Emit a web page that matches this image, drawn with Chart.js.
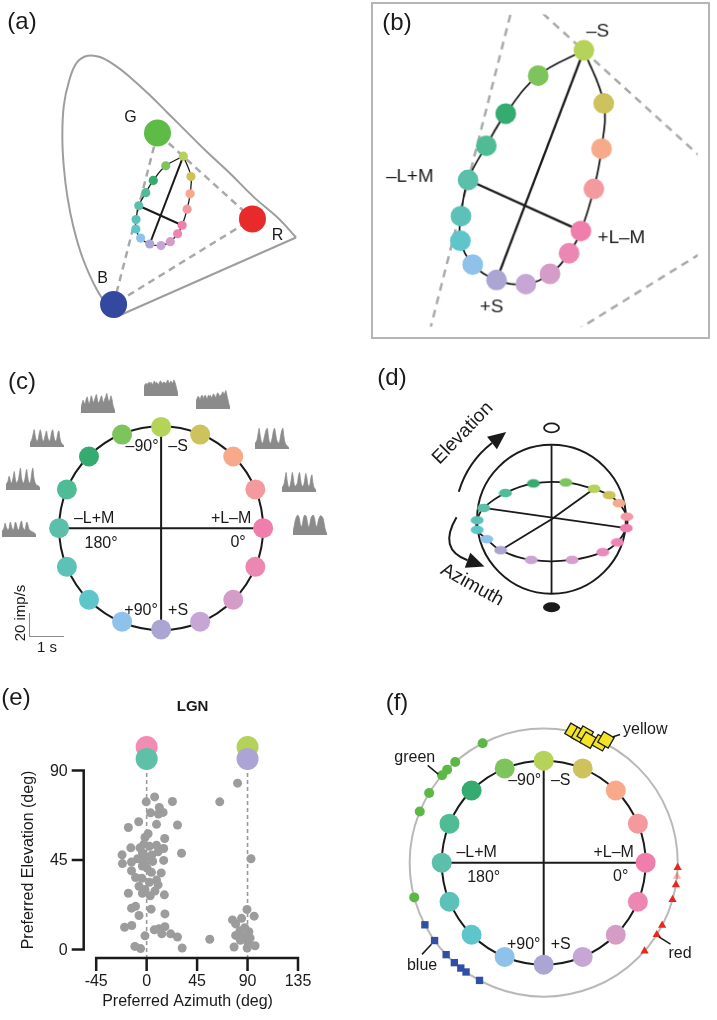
<!DOCTYPE html>
<html>
<head>
<meta charset="utf-8">
<title>Colour tuning in LGN</title>
<script src="https://cdn.jsdelivr.net/npm/chart.js@4.4.1/dist/chart.umd.min.js"></script>
<style>
  body { margin: 0; background: #fff; }
  #page { position: relative; width: 717px; height: 1020px; overflow: hidden;
          font-family: "Liberation Sans", Arial, sans-serif; color: #1a1a1a; }
  #page canvas { position: absolute; }
  .tag { position: absolute; font-size: 24px; line-height: 1; transform: translate(-50%, -50%); white-space: nowrap; }
  .small { font-size: 15px; }
</style>
</head>
<body>
<div id="page">
  <canvas id="chartA" width="368" height="340" style="left:0;top:0"></canvas>
  <canvas id="chartB" width="339" height="337" style="left:371px;top:2px;border:2px solid #b5b5b5"></canvas>
  <canvas id="chartC" width="360" height="320" style="left:0;top:340px"></canvas>
  <canvas id="chartD" width="357" height="310" style="left:360px;top:345px"></canvas>
  <canvas id="chartE" width="360" height="360" style="left:0;top:660px"></canvas>
  <canvas id="chartF" width="357" height="360" style="left:360px;top:660px"></canvas>

  <div class="tag" style="left:22px;top:21px">(a)</div>
  <div class="tag" style="left:397px;top:22px">(b)</div>
  <div class="tag" style="left:22px;top:381px">(c)</div>
  <div class="tag" style="left:392px;top:377px">(d)</div>
  <div class="tag" style="left:16px;top:697px">(e)</div>
  <div class="tag" style="left:397px;top:702px">(f)</div>

  <!-- PSTH scale bar -->
  <div style="position:absolute;left:29px;top:613px;width:34px;height:23px;border-left:1.5px solid #8a8a8a;border-bottom:1.5px solid #8a8a8a"></div>
  <div class="tag small" style="left:19px;top:613px;transform:translate(-50%,-50%) rotate(-90deg)">20 imp/s</div>
  <div class="tag small" style="left:47px;top:646px">1 s</div>
</div>
<script>
// ---- data ----
// the 16 stimulus hues: screen angle (0 = +L-M, -90 = -S, +90 = +S, 180 = -L+M)
const hueAngles = [0, 22.5, 45, 67.5, 90, 112.5, 135, 157.5, 180, -157.5, -135, -112.5, -90, -67.5, -45, -22.5];
const hueColors = ['#f07eac', '#ec87b4', '#d69cc8', '#c7a6d6', '#aba5d3', '#8ec2ea', '#5ec5cb', '#5cc1b7',
                   '#5cbfaa', '#4fbc96', '#35ab6f', '#7ec45c', '#b5d259', '#cdc25c', '#f7a98a', '#f49a9f'];

// chromaticity of the 16 stimuli (same order as hueAngles)
const ellipseX = [0.3920, 0.3760, 0.3501, 0.3174, 0.2776, 0.2453, 0.2286, 0.2294,
                  0.2390, 0.2637, 0.2901, 0.3341, 0.3961, 0.4230, 0.4200, 0.4096];
const ellipseY = [0.3100, 0.2831, 0.2582, 0.2459, 0.2507, 0.2694, 0.2981, 0.3279,
                  0.3715, 0.4128, 0.4516, 0.4975, 0.5280, 0.4639, 0.4092, 0.3607];

// monitor primaries B, G, R
const primaryNames = ['B', 'G', 'R'];
const primaryX = [0.150, 0.305, 0.640];
const primaryY = [0.060, 0.601, 0.330];
const primaryColors = ['#33489f', '#5dbb46', '#e92a2a'];

// spectrum locus outline
const locusX = [0.1565, 0.0912, 0.0422, 0.0095, -0.0124, -0.0255, -0.0307, -0.0255, -0.0069, 0.0203, 0.0585,
                0.1020, 0.1565, 0.2111, 0.2765, 0.3418, 0.4072, 0.4725, 0.5595, 0.6467, 0.7340, 0.7938];
const locusY = [0.0193, 0.1065, 0.2033, 0.3004, 0.3972, 0.4940, 0.5911, 0.6879, 0.7655, 0.8237, 0.8449,
                0.8411, 0.8138, 0.7751, 0.7219, 0.6638, 0.6056, 0.5475, 0.4748, 0.3972, 0.3295, 0.2713];

// PSTHs (imp/s, 34 bins over ~1 s) for the upper half of the hue circle
const psthAngles = [0, -22.5, -45, -67.5, -90, -112.5, -135, -157.5, 180];
const psthRates = [
  [3,7,12,15,17,17,15,10,7,9,14,17,17,16,11,7,8,13,16,17,17,14,9,7,10,14,16,17,16,15,11,6,3,1],
  [4,5,7,12,17,10,5,4,6,11,17,12,6,5,6,8,14,17,11,6,5,6,10,16,13,7,5,6,12,15,8,4,3,2],
  [5,6,8,13,18,12,7,5,6,10,14,17,18,11,6,5,7,11,16,18,13,8,6,5,7,12,16,18,11,6,4,3,2,1],
  [7,9,11,10,8,11,12,9,11,12,10,9,12,11,12,10,11,13,12,10,12,14,13,11,12,13,15,13,14,16,12,8,4,2],
  [8,10,11,10,11,12,11,12,10,11,13,11,12,11,10,12,13,12,11,12,12,11,12,14,12,11,13,12,11,14,12,9,5,2],
  [5,8,11,9,8,12,14,10,8,11,15,12,9,11,14,16,11,9,10,13,15,11,9,12,14,17,13,10,11,15,12,7,4,2],
  [4,5,7,11,15,10,6,5,7,12,15,11,6,5,7,11,14,9,6,5,8,13,15,10,6,5,7,12,14,8,4,3,2,1],
  [5,6,8,12,9,6,7,11,16,10,6,7,9,14,19,11,7,6,8,13,18,12,7,6,8,15,19,11,7,5,4,4,3,2],
  [5,6,8,12,9,7,6,8,13,10,7,6,9,13,11,7,6,8,12,14,9,7,6,9,13,11,7,6,5,5,4,4,3,2]
];
const psthBoxes = [[293,512],[282,469],[255,426],[196,386],[144,373],[81,390],[30,424],[6,467],[2,514]];

// sphere sketch: projected equator dots (unit sphere), starting at -S going clockwise
const sphereDotX = [0.571, 0.775, 0.905, 1.013, 1.004, 0.883, 0.688, 0.277, -0.273, -0.684, -0.870, -1.0, -1.0, -0.913, -0.619, -0.243, 0.191];
const sphereDotY = [0.412, 0.325, 0.217, 0.035, -0.121, -0.312, -0.445, -0.549, -0.549, -0.419, -0.269, -0.143, -0.013, 0.152, 0.355, 0.484, 0.497];
const sphereDotColors = ['#b5d259', '#cdc25c', '#f6ab8b', '#f39aa4', '#f07eac', '#ee86b5', '#e98bb9', '#d6a0cd', '#c9a5d3',
                         '#aba5d3', '#8ec2ea', '#5ec5cb', '#5cc1b7', '#5cbfaa', '#4fbc96', '#35ab6f', '#7ec45c'];

// LGN cells: preferred azimuth / elevation (deg)
const lgnAzimuth = [7.1,-0.4,23.0,11.3,3.5,10.5,14.7,-7.1,8.8,-16.3,27.5,1.3,-1.5,16.1,-14.1,-6.0,-2.4,2.4,8.8,15.2,
  -21.9,-3.8,4.6,10.2,-1.0,31.1,-21.6,-13.5,-8.0,-1.8,5.4,15.2,-13.5,-3.8,0.4,4.3,13.0,-9.9,-4.3,8.8,2.4,10.2,-6.8,
  -1.5,7.4,-16.3,-3.8,3.2,15.8,-13.5,-9.9,4.0,16.3,-6.8,-19.7,-13.3,6.8,11.0,16.3,13.5,21.4,27.5,-1.5,-10.5,-5.4,31.7,
  81.1,65.2,93.1,89.5,95.9,76.6,84.7,79.4,87.5,83.3,91.2,79.4,87.0,92.3,83.6,90.6,96.7,78.0,89.7,56.3];
const lgnElevation = [76.7,74.2,74.4,71.4,68.7,68.1,68.9,64.2,62.9,61.3,62.6,58.2,56.3,55.8,51.1,51.1,53.0,51.9,52.4,50.8,
  47.6,48.7,47.5,49.1,46.4,48.4,43.2,44.0,45.6,43.2,44.3,44.8,39.6,42.0,40.9,38.8,38.5,36.2,35.8,34.9,33.8,32.5,31.8,
  30.2,29.4,28.3,28.3,27.0,27.5,20.8,21.7,20.3,17.9,17.1,11.2,12.1,9.9,10.5,11.5,7.9,7.9,6.3,6.9,1.6,0.5,0.8,
  83.6,74.2,45.6,20.1,16.8,14.9,15.7,12.9,11.0,9.4,9.0,7.1,6.3,5.8,4.7,3.1,1.9,1.3,0.8,5.2];
const refAzimuth = [0, 0, 90, 90];
const refElevation = [101.8, 95.8, 101.8, 95.8];
const refColors = ['#f28cb1', '#5ec0a9', '#b5d258', '#aba4d4'];
const azTicks = [-45, 0, 45, 90, 135];
const elevTicks = [0, 45, 90];

// cardinal-colour preferences on the outer ring (screen angle, deg)
const greenAngles = [-117.1, -131.3, -136.1, -139.3, -148.7, -157.6, 165.0];
const yellowAngles = [-77.4, -74.3, -72.1, -70.1, -64.7, -63.1];
const yellowRadius = [1.003, 0.987, 1.007, 0.972, 0.989, 1.027];
const redAngles = [2.1, 9.5, 16.0, 27.9, 32.5, 41.2];
const redFaintAngles = [5.9];
const blueAngles = [152.4, 144.5, 136.7, 131.8, 128.2, 125.4, 118.6];

// ---- helpers ----
const FONT = '"Liberation Sans", Arial, sans-serif';
const INK = '#1a1a1a';
const RING = 142 / 108;
const rad = a => a * Math.PI / 180;
const polar = (a, r) => ({x: r * Math.cos(rad(a)), y: -r * Math.sin(rad(a))});
const P = (chart, x, y) => [chart.scales.x.getPixelForValue(x), chart.scales.y.getPixelForValue(y)];
const unit = chart => chart.scales.x.getPixelForValue(1) - chart.scales.x.getPixelForValue(0);

function label(ctx, str, x, y, size, opts) {
  opts = opts || {};
  ctx.save();
  ctx.translate(x, y);
  if (opts.rot) ctx.rotate(rad(opts.rot));
  ctx.font = (opts.bold ? 'bold ' : '') + size + 'px ' + FONT;
  ctx.fillStyle = INK;
  ctx.textAlign = opts.align || 'center';
  ctx.textBaseline = 'middle';
  ctx.fillText(str, 0, 0);
  ctx.restore();
}

function arrowHead(ctx, bx, by, ang, len, half) {
  const c = Math.cos(ang), s = Math.sin(ang);
  ctx.beginPath();
  ctx.moveTo(bx + len * c, by + len * s);
  ctx.lineTo(bx - half * s, by + half * c);
  ctx.lineTo(bx + half * s, by - half * c);
  ctx.closePath();
  ctx.fillStyle = INK;
  ctx.fill();
}

function dotSet(points, colors, radius, order, extra) {
  return Object.assign({data: points, showLine: false, pointRadius: radius, pointBackgroundColor: colors,
    pointBorderWidth: 0, order: order}, extra || {});
}
function lineSet(points, color, width, order, extra) {
  return Object.assign({data: points, showLine: true, borderColor: color, borderWidth: width,
    pointRadius: 0, tension: 0, fill: false, order: order}, extra || {});
}

function makeChart(id, xr, yr, datasets, draw) {
  return new Chart(document.getElementById(id), {
    type: 'scatter',
    data: {datasets: datasets},
    options: {
      responsive: false, animation: false, events: [],
      layout: {padding: 0},
      plugins: {legend: {display: false}, tooltip: {enabled: false}},
      scales: {
        x: {type: 'linear', min: xr[0], max: xr[1], display: false},
        y: {type: 'linear', min: yr[0], max: yr[1], display: false}
      }
    },
    plugins: [{
      id: 'extras_' + id,
      beforeDatasetsDraw(chart) { if (draw && draw.before) draw.before(chart); },
      afterDatasetsDraw(chart) { if (draw && draw.after) draw.after(chart); }
    }]
  });
}

// ---- (a) and (b): chromaticity diagram ----
const ellipsePts = ellipseX.map((x, i) => ({x: x, y: ellipseY[i]}));
const loopOrder = [12, 13, 14, 15, 0, 1, 2, 3, 4, 5, 6, 7, 8, 9, 10, 11, 12];
const ellipseLoop = loopOrder.map(i => ellipsePts[i]);
const primaries = primaryX.map((x, i) => ({x: x, y: primaryY[i]}));
const triangle = [0, 1, 2, 0].map(i => primaries[i]);
const locusPts = locusX.map((x, i) => ({x: x, y: locusY[i]}));

const primaryLabelOffset = [[-11, -26], [-27, -15], [25, 17]];
makeChart('chartA', [-0.203, 1.0], [-0.0098, 0.9786], [
  dotSet(primaries, primaryColors, 13.5, 0),
  dotSet(ellipsePts, hueColors, 4.6, 1),
  lineSet(ellipseLoop, INK, 1.3, 2, {tension: 0.4}),
  lineSet([ellipsePts[12], ellipsePts[4]], INK, 2, 2),
  lineSet([ellipsePts[8], ellipsePts[0]], INK, 2, 2),
  lineSet(triangle, '#a9a9a9', 2.5, 3, {borderDash: [7, 5]}),
  lineSet(locusPts, '#9d9d9d', 2, 4, {tension: 0.4}),
  lineSet([locusPts[locusPts.length - 1], locusPts[0]], '#9d9d9d', 2, 4)
], {
  after(chart) {
    primaryNames.forEach((n, i) => {
      const [x, y] = P(chart, primaryX[i], primaryY[i]);
      label(chart.ctx, n, x + primaryLabelOffset[i][0], y + primaryLabelOffset[i][1], 16);
    });
  }
});

const zoomLabels = [['\u2013S', 12, 14, -19], ['\u2013L+M', 8, -59, -3], ['+L\u2013M', 0, 41, 7], ['+S', 4, -5, 27]];
makeChart('chartB', [0.1242, 0.5503], [0.1945, 0.5713], [
  dotSet(ellipsePts, hueColors, 10.5, 0),
  lineSet(ellipseLoop, INK, 1.8, 1, {tension: 0.4}),
  lineSet([ellipsePts[12], ellipsePts[4]], INK, 2.3, 1),
  lineSet([ellipsePts[8], ellipsePts[0]], INK, 2.3, 1),
  lineSet(triangle, '#a9a9a9', 2.5, 2, {borderDash: [8, 6]})
], {
  after(chart) {
    zoomLabels.forEach(([t, i, dx, dy]) => {
      const [x, y] = P(chart, ellipseX[i], ellipseY[i]);
      label(chart.ctx, t, x + dx, y + dy, 19);
    });
  }
});

// ---- (c) and (f): hue circle ----
const circleLabels = [
  ['\u201390\u00b0', -19, -82], ['\u2013S', 17, -82], ['\u2013L+M', -67, -10], ['+L\u2013M', 70, -10],
  ['180\u00b0', -60, 15], ['0\u00b0', 77, 14], ['+90\u00b0', -20, 82], ['+S', 17, 82]
];

function hueCircleChart(id, xr, yr, extraSets, extraAfter, ringR) {
  const sets = [
    dotSet(hueAngles.map(a => polar(a, 1)), hueColors, 10, 0),
    lineSet([{x: 0, y: 1}, {x: 0, y: -1}], INK, 2, 2),
    lineSet([{x: -1, y: 0}, {x: 1, y: 0}], INK, 2, 2)
  ].concat(extraSets || []);
  return makeChart(id, xr, yr, sets, {
    before(chart) {
      const ctx = chart.ctx, [cx, cy] = P(chart, 0, 0), u = unit(chart);
      ctx.save();
      if (ringR) {
        ctx.beginPath(); ctx.arc(cx, cy, ringR * u, 0, 2 * Math.PI);
        ctx.strokeStyle = '#b9b9b9'; ctx.lineWidth = 2; ctx.stroke();
      }
      ctx.beginPath(); ctx.arc(cx, cy, u, 0, 2 * Math.PI);
      ctx.strokeStyle = INK; ctx.lineWidth = 2; ctx.stroke();
      ctx.restore();
    },
    after(chart) {
      const [cx, cy] = P(chart, 0, 0);
      circleLabels.forEach(([t, dx, dy]) => label(chart.ctx, t, cx + dx, cy + dy, 16));
      if (extraAfter) extraAfter(chart);
    }
  });
}

hueCircleChart('chartC', [-160 / 108, 200 / 108], [-130 / 108, 190 / 108]);

// PSTHs around the circle: filled rate curves
const page = document.getElementById('page');
psthRates.forEach((rates, i) => {
  const c = document.createElement('canvas');
  c.width = 34; c.height = 23;
  c.style.left = psthBoxes[i][0] + 'px';
  c.style.top = psthBoxes[i][1] + 'px';
  c.title = 'PSTH ' + psthAngles[i] + '\u00b0';
  page.appendChild(c);
  new Chart(c, {
    type: 'line',
    data: {labels: rates.map((_, k) => k),
      datasets: [{data: rates, fill: 'origin', backgroundColor: '#8b8b8b', borderColor: '#8b8b8b',
        borderWidth: 0.8, pointRadius: 0, tension: 0.25}]},
    options: {responsive: false, animation: false, events: [],
      layout: {padding: 0},
      plugins: {legend: {display: false}, tooltip: {enabled: false}},
      scales: {x: {display: false, offset: false}, y: {display: false, min: 0, max: 20}}}
  });
});

const outerNotes = [
  {text: 'green', a0: -140, r0: 1.35, a1: -140, r1: 1.485, dx: -13, dy: -8, align: 'center'},
  {text: 'yellow', a0: -61.3, r0: 1.404, a1: -59.2, r1: 1.463, dx: 3, dy: -5, align: 'left'},
  {text: 'red', a0: 32.8, r0: 1.344, a1: 32.7, r1: 1.478, dx: -2, dy: 9, align: 'left'},
  {text: 'blue', a0: 144, r0: 1.361, a1: 143, r1: 1.494, dx: 0, dy: 11, align: 'center'}
];
hueCircleChart('chartF', [-184 / 108, 173 / 108], [-156 / 108, 204 / 108], [
  dotSet(greenAngles.map(a => polar(a, RING)), '#5bb844', 5, 0),
  dotSet(blueAngles.map(a => polar(a, RING)), '#2f4ea5', 5.2, 0, {pointStyle: 'rect'}),
  dotSet(redAngles.map(a => polar(a, RING)), '#e8281f', 4.8, 0, {pointStyle: 'triangle'}),
  dotSet(redFaintAngles.map(a => polar(a, RING)), 'rgba(232,40,31,0.35)', 4.8, 1, {pointStyle: 'triangle'}),
  dotSet(yellowAngles.map((a, i) => polar(a, RING * yellowRadius[i])), '#f4e424', 8.5, 0,
    {pointStyle: 'rect', rotation: 30, pointBorderWidth: 1.3, pointBorderColor: INK})
], chart => {
  const ctx = chart.ctx;
  ctx.save();
  ctx.strokeStyle = INK; ctx.lineWidth = 1.5;
  outerNotes.forEach(n => {
    const p0 = polar(n.a0, n.r0), p1 = polar(n.a1, n.r1);
    const [x0, y0] = P(chart, p0.x, p0.y), [x1, y1] = P(chart, p1.x, p1.y);
    ctx.beginPath(); ctx.moveTo(x0, y0); ctx.lineTo(x1, y1); ctx.stroke();
    label(ctx, n.text, x1 + n.dx, y1 + n.dy, 16, {align: n.align});
  });
  ctx.restore();
}, RING);

// ---- (d): sphere ----
function ellipseDot(color) {
  const c = document.createElement('canvas');
  c.width = 14; c.height = 10;
  const g = c.getContext('2d');
  g.fillStyle = color;
  g.beginPath(); g.ellipse(7, 5, 6.5, 4.3, 0, 0, 2 * Math.PI); g.fill();
  return c;
}
const sphereDots = sphereDotX.map((x, i) => ({x: x, y: sphereDotY[i]}));
makeChart('chartD', [-192 / 77, 165 / 77], [-135 / 77, 175 / 77], [
  dotSet(sphereDots, sphereDotColors, 6, 0, {pointStyle: sphereDotColors.map(ellipseDot)}),
  lineSet(sphereDots.concat([sphereDots[0]]), INK, 1.8, 1, {tension: 0.4}),
  lineSet([{x: 0, y: 1}, {x: 0, y: -1}], INK, 1.8, 1),
  lineSet([sphereDots[13], sphereDots[4]], INK, 1.8, 1),
  lineSet([sphereDots[9], {x: 0, y: 0}, sphereDots[0]], INK, 1.8, 1)
], {
  before(chart) {
    const ctx = chart.ctx, [cx, cy] = P(chart, 0, 0), u = unit(chart);
    ctx.save();
    ctx.beginPath(); ctx.arc(cx, cy, u, 0, 2 * Math.PI);
    ctx.strokeStyle = INK; ctx.lineWidth = 2; ctx.stroke();
    ctx.restore();
  },
  after(chart) {
    const ctx = chart.ctx, [cx, cy] = P(chart, 0, 0), u = unit(chart);
    ctx.save();
    ctx.strokeStyle = INK; ctx.fillStyle = INK; ctx.lineWidth = 1.8;
    // poles
    ctx.beginPath(); ctx.ellipse(cx, P(chart, 0, 1.234)[1], 7.5, 4.5, 0, 0, 2 * Math.PI); ctx.stroke();
    ctx.beginPath(); ctx.ellipse(cx, P(chart, 0, -1.19)[1], 8.5, 5, 0, 0, 2 * Math.PI); ctx.fill();
    // elevation arrow
    const R = 1.3 * u, a1 = rad(232);
    ctx.lineWidth = 2;
    ctx.beginPath(); ctx.arc(cx, cy, R, rad(196.5), a1); ctx.stroke();
    arrowHead(ctx, cx + R * Math.cos(a1), cy + R * Math.sin(a1), Math.atan2(Math.cos(a1), -Math.sin(a1)), 18, 8);
    // azimuth arrow
    ctx.beginPath(); ctx.moveTo(cx - 95, cy - 2); ctx.quadraticCurveTo(cx - 114, cy + 30, cx - 84, cy + 41); ctx.stroke();
    arrowHead(ctx, cx - 84, cy + 41, Math.atan2(11, 30), 18, 8);
    ctx.restore();
    label(ctx, 'Elevation', cx - 88.7, cy - 86, 19, {rot: -46});
    label(ctx, 'Azimuth', cx - 79.5, cy + 65.8, 19, {rot: 29});
  }
});

// ---- (e): LGN scatter ----
const lgnPts = lgnAzimuth.map((x, i) => ({x: x, y: lgnElevation[i]}));
const refPts = refAzimuth.map((x, i) => ({x: x, y: refElevation[i]}));
makeChart('chartE', [-121.0, 180.5], [-29.86, 139.95], [
  dotSet(refPts, refColors, 11, 0),
  dotSet(lgnPts, '#9c9c9c', 4.5, 1),
  lineSet([{x: 0, y: 95.8}, {x: 0, y: -3.9}], '#9a9a9a', 1.6, 2, {borderDash: [4, 3]}),
  lineSet([{x: 90, y: 95.8}, {x: 90, y: -3.9}], '#9a9a9a', 1.6, 2, {borderDash: [4, 3]})
], {
  after(chart) {
    const ctx = chart.ctx;
    const X = v => chart.scales.x.getPixelForValue(v), Y = v => chart.scales.y.getPixelForValue(v);
    const ax = X(-45) - 12.5, ay = Y(0) + 8.5;
    ctx.save();
    ctx.strokeStyle = INK; ctx.lineWidth = 2.5;
    ctx.beginPath();
    ctx.moveTo(ax, Y(0) + 1.25); ctx.lineTo(ax, Y(90) - 1.25);
    elevTicks.forEach(v => { ctx.moveTo(ax + 1.25, Y(v)); ctx.lineTo(ax - 12, Y(v)); });
    ctx.moveTo(X(-45) - 1.25, ay); ctx.lineTo(X(135) + 1.25, ay);
    azTicks.forEach(v => { ctx.moveTo(X(v), ay - 1.25); ctx.lineTo(X(v), ay + 13); });
    ctx.stroke();
    ctx.restore();
    elevTicks.forEach(v => label(ctx, String(v), ax - 16, Y(v) + 1, 16, {align: 'right'}));
    azTicks.forEach(v => label(ctx, String(v), X(v), ay + 24, 16));
    label(ctx, 'Preferred Azimuth (deg)', X(36.5), ay + 44, 16);
    label(ctx, 'Preferred Elevation (deg)', ax - 55, Y(45), 16, {rot: -90});
    label(ctx, 'LGN', X(41), Y(122), 15, {bold: true});
  }
});
</script>
</body>
</html>
